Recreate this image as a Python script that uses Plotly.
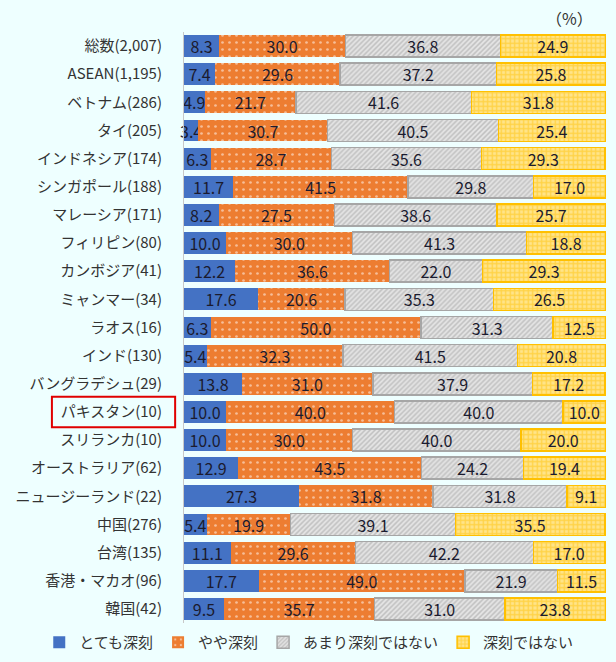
import plotly.graph_objects as go

categories = ["総数(2,007)", "ASEAN(1,195)", "ベトナム(286)", "タイ(205)", "インドネシア(174)",
              "シンガポール(188)", "マレーシア(171)", "フィリピン(80)", "カンボジア(41)", "ミャンマー(34)",
              "ラオス(16)", "インド(130)", "バングラデシュ(29)", "パキスタン(10)", "スリランカ(10)",
              "オーストラリア(62)", "ニュージーランド(22)", "中国(276)", "台湾(135)", "香港・マカオ(96)", "韓国(42)"]

very_serious = [8.3, 7.4, 4.9, 3.4, 6.3, 11.7, 8.2, 10.0, 12.2, 17.6, 6.3, 5.4, 13.8, 10.0, 10.0, 12.9, 27.3, 5.4, 11.1, 17.7, 9.5]
somewhat_serious = [30.0, 29.6, 21.7, 30.7, 28.7, 41.5, 27.5, 30.0, 36.6, 20.6, 50.0, 32.3, 31.0, 40.0, 30.0, 43.5, 31.8, 19.9, 29.6, 49.0, 35.7]
not_very_serious = [36.8, 37.2, 41.6, 40.5, 35.6, 29.8, 38.6, 41.3, 22.0, 35.3, 31.3, 41.5, 37.9, 40.0, 40.0, 24.2, 31.8, 39.1, 42.2, 21.9, 31.0]
not_serious = [24.9, 25.8, 31.8, 25.4, 29.3, 17.0, 25.7, 18.8, 29.3, 26.5, 12.5, 20.8, 17.2, 10.0, 20.0, 19.4, 9.1, 35.5, 17.0, 11.5, 23.8]

series_names = ["とても深刻", "やや深刻", "あまり深刻ではない", "深刻ではない"]
highlight = "パキスタン(10)"

FONT = "Noto Sans CJK JP"
TXT = "#1B1B2F"

styles = [
    dict(color="#4472C4", line=dict(width=0)),
    dict(color="#ED7D31", line=dict(width=0),
         pattern=dict(shape=".", fgcolor="#FFFFFF", size=7, solidity=0.12)),
    dict(color="#E4E4E4", line=dict(width=1.5, color="#A6A6A6"),
         pattern=dict(shape="/", fgcolor="#9E9E9E", size=3.5, solidity=0.45)),
    dict(color="#FFE48A", line=dict(width=1.5, color="#FFC000"),
         pattern=dict(shape="+", fgcolor="#FFC000", size=4.5, solidity=0.5)),
]

fig = go.Figure()
for name, vals, st in zip(series_names, [very_serious, somewhat_serious, not_very_serious, not_serious], styles):
    fig.add_trace(go.Bar(
        y=categories, x=vals, name=name, orientation="h",
        marker=st,
        text=[f"{v:.1f}" for v in vals],
        textposition="inside", insidetextanchor="middle", textangle=0,
        textfont=dict(family=FONT, size=16, color=TXT),
        constraintext="none",
        cliponaxis=False,
    ))

idx = categories.index(highlight)
fig.add_shape(type="rect", xref="paper", yref="y",
              x0=-0.313, x1=-0.021, y0=idx - 0.54, y1=idx + 0.54,
              line=dict(color="#E00000", width=2), fillcolor="rgba(0,0,0,0)")

fig.add_annotation(text="（%）", xref="paper", yref="paper", x=0.975, y=1.024,
                   xanchor="right", yanchor="middle", showarrow=False,
                   font=dict(family=FONT, size=16, color="#333333"))

fig.update_layout(
    barmode="stack", bargap=0.22,
    width=616, height=662,
    paper_bgcolor="#EEFFFF", plot_bgcolor="#EEFFFF",
    margin=dict(l=184, r=10, t=32, b=39, autoexpand=False),
    font=dict(family=FONT, size=15, color="#333333"),
    uniformtext=dict(minsize=16, mode="show"),
    showlegend=True,
    legend=dict(orientation="h", x=-0.343, xanchor="left", y=-0.033, yanchor="middle",
                font=dict(family=FONT, size=15, color="#333333"),
                bgcolor="rgba(0,0,0,0)", itemwidth=30, traceorder="normal"),
    xaxis=dict(range=[0, 100.15], showticklabels=False, showgrid=False, zeroline=False,
               fixedrange=True, automargin=False),
    yaxis=dict(autorange="reversed", showgrid=False, showline=True, linecolor="#C8C8C8", linewidth=1,
               ticks="", ticklabelstandoff=18, automargin=False, fixedrange=True,
               tickfont=dict(family=FONT, size=15, color="#333333")),
)

fig.write_html("out.html", config={"displayModeBar": False},
               post_script="document.body.style.margin='0';document.body.style.background='#EEFFFF';")
